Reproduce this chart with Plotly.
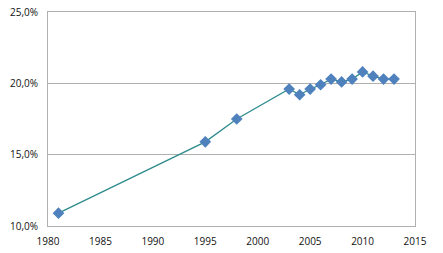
import plotly.graph_objects as go

years = [1981, 1995, 1998, 2003, 2004, 2005, 2006, 2007, 2008, 2009, 2010, 2011, 2012, 2013]
values = [10.9, 15.9, 17.5, 19.6, 19.2, 19.6, 19.9, 20.3, 20.1, 20.3, 20.8, 20.5, 20.3, 20.3]

y_ticks = [10, 15, 20, 25]
y_labels = ["10,0%", "15,0%", "20,0%", "25,0%"]
x_ticks = [1980, 1985, 1990, 1995, 2000, 2005, 2010, 2015]

fig = go.Figure()
fig.add_trace(go.Scatter(
    x=years, y=values, mode="lines+markers",
    line=dict(color="#2E8B8E", width=1.3),
    marker=dict(symbol="diamond", size=9, color="#4F81BD"),
    cliponaxis=False,
))

fig.update_layout(
    width=443, height=253,
    margin=dict(l=48, r=28, t=12, b=27, autoexpand=False),
    paper_bgcolor="white", plot_bgcolor="white",
    showlegend=False,
    font=dict(family="Open Sans", size=10, color="#111111"),
    xaxis=dict(range=[1980, 2015], tickvals=x_ticks, showgrid=False,
               showline=True, linecolor="#B0B0B0", linewidth=1, mirror=True,
               ticks="outside", ticklen=6, tickcolor="rgba(0,0,0,0)",
               zeroline=False, automargin=False),
    yaxis=dict(range=[10, 25], tickvals=y_ticks, ticktext=y_labels,
               showgrid=True, gridcolor="#B0B0B0", gridwidth=1,
               showline=True, linecolor="#B0B0B0", linewidth=1, mirror=True,
               ticks="outside", ticklen=7, tickcolor="rgba(0,0,0,0)",
               zeroline=False, automargin=False),
)

fig.write_html("out.html")
